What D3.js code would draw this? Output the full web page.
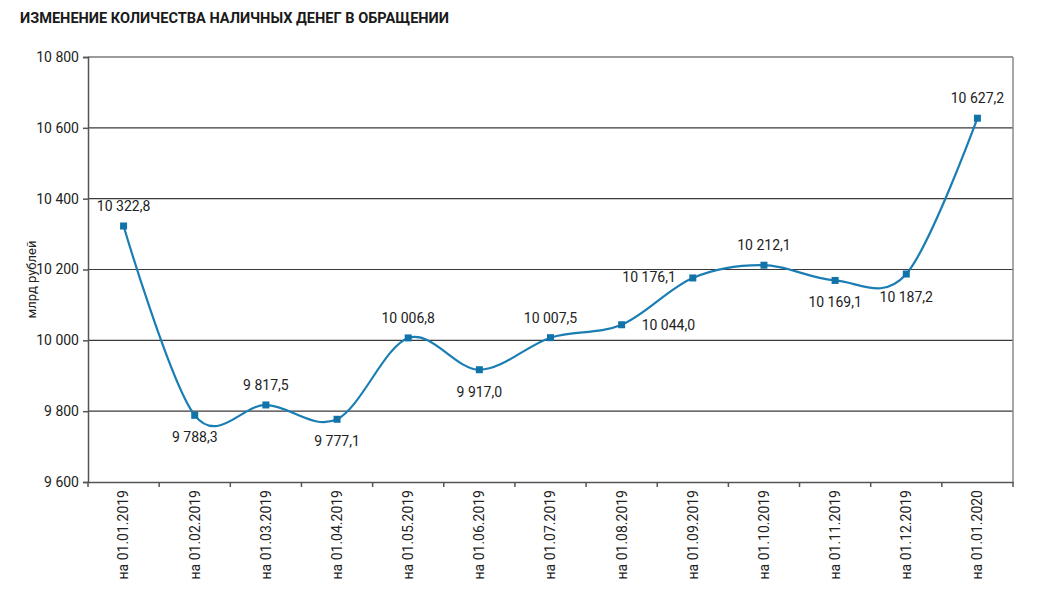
<!DOCTYPE html>
<html><head><meta charset="utf-8">
<script src="https://cdn.jsdelivr.net/npm/d3@7"></script>
<style>body{margin:0;background:#fff}svg{display:block}</style>
</head><body><svg id="c" width="1052" height="592"></svg>
<script>
const categories = ["на 01.01.2019","на 01.02.2019","на 01.03.2019","на 01.04.2019","на 01.05.2019","на 01.06.2019","на 01.07.2019","на 01.08.2019","на 01.09.2019","на 01.10.2019","на 01.11.2019","на 01.12.2019","на 01.01.2020"];
const values = [10322.8, 9788.3, 9817.5, 9777.1, 10006.8, 9917.0, 10007.5, 10044.0, 10176.1, 10212.1, 10169.1, 10187.2, 10627.2];
const labelPos = ["above","below","above","below","above","below","above","right","left","above","below","belowright","above"];
const yTicks = [9600, 9800, 10000, 10200, 10400, 10600, 10800];
const title = "ИЗМЕНЕНИЕ КОЛИЧЕСТВА НАЛИЧНЫХ ДЕНЕГ В ОБРАЩЕНИИ";
const yTitle = "млрд рублей";

const svg = d3.select("#c");
const m = {l:88, r:1013, t:57, b:482};
const x = d3.scaleBand().domain(categories).range([m.l, m.r]);
const y = d3.scaleLinear().domain([9600, 10800]).range([m.b, m.t]);
const fmt = v => {
  const s = v.toFixed(1).replace(".", ",");
  const [ip, dp] = s.split(",");
  return ip.replace(/\B(?=(\d{3})+(?!\d))/g, " ") + "," + dp;
};
const fmtTick = v => String(v).replace(/\B(?=(\d{3})+(?!\d))/g, " ");
const font = "Roboto, 'Noto Sans', sans-serif";

svg.append("text").attr("x", 20).attr("y", 23).text(title)
  .attr("font-family", "'Roboto', sans-serif").attr("font-weight", 700)
  .attr("font-size", 14.5).attr("fill", "#1a1a1a").attr("textLength", 429).attr("lengthAdjust","spacingAndGlyphs");

// gridlines
svg.append("g").selectAll("line").data(yTicks.filter(d => d > 9600)).join("line")
  .attr("x1", m.l).attr("x2", m.r).attr("y1", d => y(d)).attr("y2", d => y(d))
  .attr("stroke", "#3a3a3a").attr("stroke-width", 1.2);
// right border
svg.append("line").attr("x1", m.r).attr("x2", m.r).attr("y1", m.t).attr("y2", m.b)
  .attr("stroke", "#8a8a8a").attr("stroke-width", 1.5);

// y axis
const ya = svg.append("g").attr("transform", `translate(${m.l},0)`)
  .call(d3.axisLeft(y).tickValues(yTicks).tickFormat(fmtTick).tickSize(5).tickPadding(4));
ya.select(".domain").attr("stroke", "#555").attr("stroke-width", 1.5);
ya.selectAll(".tick line").attr("stroke", "#555").attr("stroke-width", 1.5);
ya.selectAll("text").attr("font-family", font).attr("font-size", 14).attr("fill", "#222");

// x axis
const xa = svg.append("g").attr("transform", `translate(0,${m.b})`)
  .call(d3.axisBottom(x).tickSize(0).tickPadding(8));
xa.select(".domain").attr("stroke", "#555").attr("stroke-width", 1.5);
xa.selectAll(".tick text").attr("font-family", font).attr("font-size", 14).attr("fill", "#222")
  .attr("transform", "rotate(-90)").attr("text-anchor", "end").attr("dx", "-8").attr("dy", "0.35em").attr("x", 0).attr("y", 0);
// boundary ticks
const bounds = categories.map(c => x(c)).concat([x.range()[1]]);
svg.append("g").selectAll("line").data(bounds).join("line")
  .attr("x1", d => d).attr("x2", d => d).attr("y1", m.b).attr("y2", m.b + 5)
  .attr("stroke", "#555").attr("stroke-width", 1.5);

// y title
svg.append("text").attr("transform", `translate(36,${(m.t+m.b)/2 + 10}) rotate(-90)`)
  .attr("text-anchor", "middle").text(yTitle)
  .attr("font-family", font).attr("font-size", 13).attr("fill", "#222");

const cx = c => x(c) + x.bandwidth()/2;
const pts = categories.map((c, i) => [cx(c), y(values[i])]);
svg.append("path").attr("d", d3.line().curve(d3.curveCardinal.tension(0))(pts))
  .attr("fill", "none").attr("stroke", "#1a7db3").attr("stroke-width", 2.2);
svg.append("g").selectAll("rect").data(pts).join("rect")
  .attr("x", d => d[0] - 3.5).attr("y", d => d[1] - 3.5).attr("width", 7).attr("height", 7)
  .attr("fill", "#1273a8");

const off = {above:[0,-15,"middle"], below:[0,27,"middle"], right:[20,5,"start"], left:[-17,4,"end"], belowright:[0,28,"middle"]};
svg.append("g").selectAll("text").data(pts).join("text")
  .attr("x", (d,i) => d[0] + off[labelPos[i]][0])
  .attr("y", (d,i) => d[1] + off[labelPos[i]][1])
  .attr("text-anchor", (d,i) => off[labelPos[i]][2])
  .text((d,i) => fmt(values[i]))
  .attr("font-family", font).attr("font-size", 14).attr("fill", "#222");
</script></body></html>
